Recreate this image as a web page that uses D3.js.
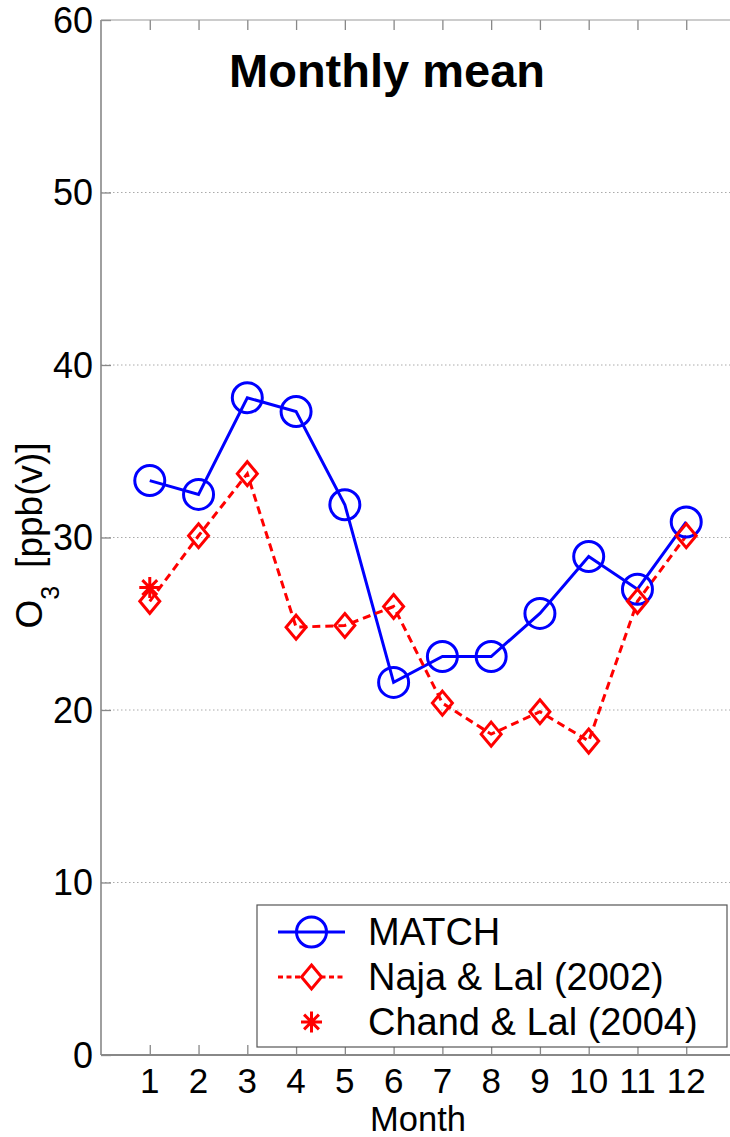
<!DOCTYPE html>
<html>
<head>
<meta charset="utf-8">
<script src="https://cdn.jsdelivr.net/npm/d3@7"></script>
<style>
  html, body { margin: 0; padding: 0; background: #fff; }
  svg { display: block; font-family: "Liberation Sans", Arial, Helvetica, sans-serif; }
</style>
</head>
<body>
<svg id="chart" width="730" height="1137"></svg>
<script>
// Monthly mean surface ozone, O3 in ppb(v)
const months = [1, 2, 3, 4, 5, 6, 7, 8, 9, 10, 11, 12];
const matchValues = [33.3, 32.5, 38.1, 37.3, 31.9, 21.6, 23.1, 23.1, 25.6, 28.9, 27.0, 30.9];
const najaLalValues = [26.3, 30.1, 33.7, 24.8, 24.9, 26.0, 20.4, 18.6, 19.9, 18.2, 26.3, 30.1];
const chandLalPoints = [{ month: 1, value: 27.1 }];
const yTicks = [0, 10, 20, 30, 40, 50, 60];
const gridTicks = [10, 20, 30, 40, 50];
const legendLabels = ["MATCH", "Naja & Lal (2002)", "Chand & Lal (2004)"];

const BLUE = "#0000ff", RED = "#ff0000", AXIS = "#888888";
const LW = 3;

const svg = d3.select("#chart");
const x = d3.scaleLinear().domain([0, 13]).range([101, 735]);
const y = d3.scaleLinear().domain([0, 60]).range([1055, 20]);
const [x0, x1] = x.range();
const [yb, yt] = y.range();

// dotted horizontal grid
svg.append("g").selectAll("line").data(gridTicks).join("line")
  .attr("x1", x0).attr("x2", x1)
  .attr("y1", d => y(d)).attr("y2", d => y(d))
  .attr("stroke", "#aaaaaa").attr("stroke-width", 1)
  .attr("stroke-dasharray", "1.5,2.5");

// axes with inward ticks
const tickSize = 10;
const leftAxis = svg.append("g").attr("transform", `translate(${x0},0)`)
  .call(d3.axisRight(y).tickValues(yTicks).tickSize(tickSize).tickFormat(""));
const bottomAxis = svg.append("g").attr("transform", `translate(0,${yb})`)
  .call(d3.axisTop(x).tickValues(months).tickSize(tickSize).tickFormat(""));
const topAxis = svg.append("g").attr("transform", `translate(0,${yt})`)
  .call(d3.axisBottom(x).tickValues(months).tickSize(tickSize).tickFormat(""));
[leftAxis, bottomAxis, topAxis].forEach(g => {
  g.select(".domain").remove();
  g.selectAll(".tick line").attr("stroke", AXIS).attr("stroke-width", 1.3);
});
svg.append("line").attr("x1", x0).attr("x2", x0).attr("y1", yt).attr("y2", yb)
  .attr("stroke", AXIS).attr("stroke-width", 1.6);
svg.append("line").attr("x1", x0).attr("x2", x1).attr("y1", yb).attr("y2", yb)
  .attr("stroke", AXIS).attr("stroke-width", 2);
svg.append("line").attr("x1", x0).attr("x2", x1).attr("y1", yt).attr("y2", yt)
  .attr("stroke", "#999999").attr("stroke-width", 1.2);

// tick labels
svg.append("g").selectAll("text").data(yTicks).join("text")
  .attr("x", 93).attr("y", d => y(d)).attr("dy", "0.35em")
  .attr("text-anchor", "end").attr("font-size", 36).text(d => d);
svg.append("g").selectAll("text").data(months).join("text")
  .attr("x", d => x(d)).attr("y", 1093)
  .attr("text-anchor", "middle").attr("font-size", 35).text(d => d);

// axis titles
svg.append("text").attr("x", (x0 + 735) / 2).attr("y", 1131)
  .attr("text-anchor", "middle").attr("font-size", 34.5).text("Month");

const yl = svg.append("text")
  .attr("transform", `translate(42,${y(30) - 2}) rotate(-90)`)
  .attr("text-anchor", "middle").attr("font-size", 37);
yl.append("tspan").text("O");
yl.append("tspan").attr("font-size", 25).attr("dy", 17).text("3");
yl.append("tspan").attr("dy", -17).attr("dx", 18).text("[ppb(v)]");

svg.append("text").attr("x", 387).attr("y", 87)
  .attr("text-anchor", "middle").attr("font-size", 47).attr("font-weight", "bold")
  .text("Monthly mean");

// series
const lineGen = d3.line().x(d => x(d[0])).y(d => y(d[1]));
const matchData = months.map((m, i) => [m, matchValues[i]]);
const najaData = months.map((m, i) => [m, najaLalValues[i]]);

svg.append("path").datum(matchData).attr("d", lineGen)
  .attr("fill", "none").attr("stroke", BLUE).attr("stroke-width", LW);
svg.append("path").datum(najaData).attr("d", lineGen)
  .attr("fill", "none").attr("stroke", RED).attr("stroke-width", LW)
  .attr("stroke-dasharray", "8,5");

const diamond = (cx, cy) => `M${cx},${cy - 12}L${cx + 10},${cy}L${cx},${cy + 12}L${cx - 10},${cy}Z`;
const asterisk = (cx, cy, r) => {
  const d = r * Math.SQRT1_2;
  return `M${cx},${cy - r}V${cy + r}M${cx - r},${cy}H${cx + r}` +
    `M${cx - d},${cy - d}L${cx + d},${cy + d}M${cx - d},${cy + d}L${cx + d},${cy - d}`;
};

svg.append("g").selectAll("circle").data(matchData).join("circle")
  .attr("cx", d => x(d[0])).attr("cy", d => y(d[1])).attr("r", 15)
  .attr("fill", "none").attr("stroke", BLUE).attr("stroke-width", LW);
svg.append("g").selectAll("path").data(najaData).join("path")
  .attr("d", d => diamond(x(d[0]), y(d[1])))
  .attr("fill", "none").attr("stroke", RED).attr("stroke-width", LW);
svg.append("g").selectAll("path").data(chandLalPoints).join("path")
  .attr("d", d => asterisk(x(d.month), y(d.value), 10.5))
  .attr("fill", "none").attr("stroke", RED).attr("stroke-width", LW);

// legend
const lg = svg.append("g");
lg.append("rect").attr("x", 257).attr("y", 905).attr("width", 470).attr("height", 142)
  .attr("fill", "#fff").attr("stroke", "#555").attr("stroke-width", 1.2);
const rowY = [932, 977, 1022];
const lx0 = 278, lx1 = 345, lcx = (lx0 + lx1) / 2;
lg.append("line").attr("x1", lx0).attr("x2", lx1).attr("y1", rowY[0]).attr("y2", rowY[0])
  .attr("stroke", BLUE).attr("stroke-width", LW);
lg.append("circle").attr("cx", lcx).attr("cy", rowY[0]).attr("r", 15)
  .attr("fill", "none").attr("stroke", BLUE).attr("stroke-width", LW);
lg.append("line").attr("x1", lx0).attr("x2", lx1).attr("y1", rowY[1]).attr("y2", rowY[1])
  .attr("stroke", RED).attr("stroke-width", LW).attr("stroke-dasharray", "5,3.5");
lg.append("path").attr("d", diamond(lcx, rowY[1]))
  .attr("fill", "#fff").attr("stroke", RED).attr("stroke-width", LW);
lg.append("path").attr("d", asterisk(lcx, rowY[2], 10.5))
  .attr("fill", "none").attr("stroke", RED).attr("stroke-width", LW);
lg.selectAll("text.lab").data(legendLabels).join("text").attr("class", "lab")
  .attr("x", 368).attr("y", (d, i) => rowY[i] + 13)
  .attr("font-size", 38).text(d => d);
</script>
</body>
</html>
